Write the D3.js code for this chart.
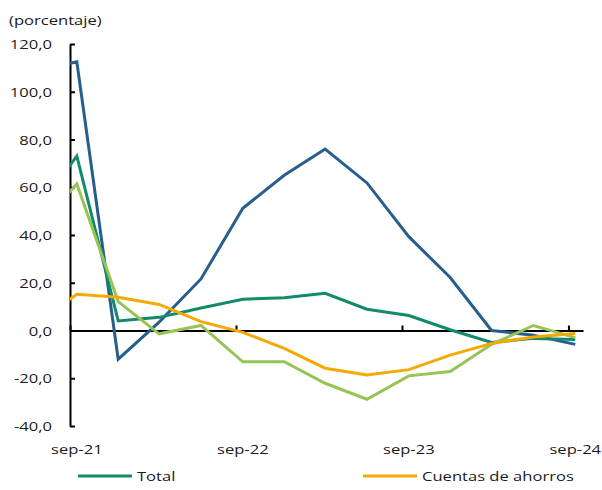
<!DOCTYPE html>
<html>
<head>
<meta charset="utf-8">
<script src="https://cdn.jsdelivr.net/npm/d3@7"></script>
<style>
  html, body { margin: 0; padding: 0; background: #fff; }
  svg { display: block; }
  text { font-family: "Open Sans", sans-serif; fill: #1a1a1a; }
</style>
</head>
<body>
<svg id="chart" width="602" height="490"></svg>
<script>
// ---- data (quarterly, annual growth %) ----
const dates = ["2021-06-16","2021-09-16","2021-12-16","2022-03-16","2022-06-16","2022-09-16","2022-12-16",
               "2023-03-16","2023-06-16","2023-09-16","2023-12-16","2024-03-16","2024-06-16","2024-09-16"];
const totalValues      = [50, 73, 4, 5.5, 9.4, 13.1, 13.7, 15.6, 8.9, 6.3, 0.3, -5, -3.3, -3.8];
const ahorrosValues    = [2.5, 15.2, 13.9, 10.9, 3.7, -0.8, -7.5, -15.8, -18.6, -16.4, -10.3, -5.4, -2.7, -1.3];
const corrientesValues = [109, 112.5, -12, 3.5, 21.6, 51.2, 65, 76, 61.8, 39.3, 22.2, 0, -2, -5.8];
const plazoValues      = [42, 61.4, 12.1, -1.4, 2.1, -13.1, -13.1, -22.1, -28.8, -19, -17.2, -5.8, 2.1, -3];
const seriesNames  = ["Cuentas corrientes", "Total", "Depósitos a plazo", "Cuentas de ahorros"];
const seriesColors = ["#265E8E", "#128A6B", "#97C456", "#F4A904"];
const yTicks = [-40, -20, 0, 20, 40, 60, 80, 100, 120];
const xTickDates  = ["2021-09-01","2022-09-01","2023-09-01","2024-09-01"];
const xLabelDates = ["2021-09-16","2022-09-16","2023-09-16","2024-09-16"];
const xTickLabels = ["sep-21","sep-22","sep-23","sep-24"];
const legendItems = ["Total", "Cuentas de ahorros"];
const yTitle = "(porcentaje)";

// ---- setup ----
const parse = d3.timeParse("%Y-%m-%d");
const svg = d3.select("#chart");
const SX = 1.37;          // horizontal text stretch seen in the reference
const FS = 12.1;

const x = d3.scaleTime().domain([parse("2021-09-01"), parse("2024-10-03")]).range([70, 583]);
const y = d3.scaleLinear().domain([-40, 120]).range([426, 44]);
const fmt = d3.formatLocale({decimal: ",", thousands: ".", grouping: [3], currency: ["", ""], minus: "-"}).format(".1f");

function stretchedText(parent, px, py, str, anchor) {
  const g = parent.append("g").attr("transform", `translate(${px},${py}) scale(${SX},1)`);
  g.append("text").attr("text-anchor", anchor).attr("dominant-baseline", "central")
    .style("font-size", FS + "px").text(str);
  return g;
}

// y title
stretchedText(svg, 9, 20, yTitle, "start");

// y axis
const yAxis = d3.axisLeft(y).tickValues(yTicks).tickSizeInner(-5).tickSizeOuter(0).tickFormat("");
const gy = svg.append("g").attr("transform", "translate(70,0)").call(yAxis);
gy.select(".domain").attr("stroke", "#000").attr("stroke-width", 2);
gy.selectAll(".tick line").attr("stroke", "#000").attr("stroke-width", 2);
yTicks.forEach(v => stretchedText(svg, 52, y(v), fmt(v), "end"));

// x axis at zero
const xAxis = d3.axisTop(x).tickValues(xTickDates.map(parse)).tickSizeInner(5).tickSizeOuter(0).tickFormat("");
const gx = svg.append("g").attr("transform", `translate(0,${y(0)})`).call(xAxis);
gx.select(".domain").attr("stroke", "#000").attr("stroke-width", 2);
gx.selectAll(".tick line").attr("stroke", "#000").attr("stroke-width", 2);
xTickLabels.forEach((t, i) => stretchedText(svg, x(parse(xLabelDates[i])), 449, t, "middle"));

// clip
svg.append("clipPath").attr("id", "plotclip").append("rect")
  .attr("x", x.range()[0]).attr("y", 0).attr("width", x.range()[1] - x.range()[0]).attr("height", 490);

const allValues = [corrientesValues, totalValues, plazoValues, ahorrosValues];
const line = d3.line().x(d => x(d.date)).y(d => y(d.v));
const plot = svg.append("g").attr("clip-path", "url(#plotclip)");
allValues.forEach((vals, i) => {
  const data = vals.map((v, j) => ({date: parse(dates[j]), v}));
  plot.append("path").datum(data)
    .attr("fill", "none").attr("stroke", seriesColors[i]).attr("stroke-width", 3)
    .attr("stroke-linejoin", "miter").attr("d", line);
});

// legend
const legendX = [78, 363];
legendItems.forEach((name, i) => {
  const c = seriesColors[seriesNames.indexOf(name)];
  svg.append("line").attr("x1", legendX[i]).attr("x2", legendX[i] + 54).attr("y1", 476).attr("y2", 476)
    .attr("stroke", c).attr("stroke-width", 3);
  stretchedText(svg, legendX[i] + 59, 476, name, "start");
});
</script>
</body>
</html>
